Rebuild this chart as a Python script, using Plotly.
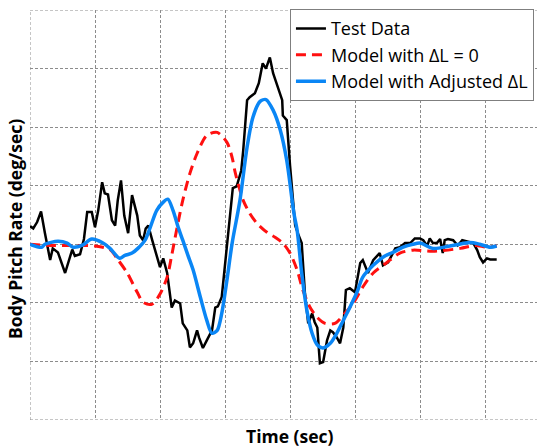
import plotly.graph_objects as go

# Test data (black)
test_t = [0.00, 0.05, 0.11, 0.17, 0.23, 0.31, 0.35, 0.43, 0.54, 0.65, 0.69, 0.77, 0.83, 0.88, 0.95,
          1.00, 1.05, 1.11, 1.15, 1.20, 1.26, 1.31, 1.35, 1.40, 1.45, 1.51, 1.57, 1.65, 1.69, 1.74,
          1.78, 1.82, 1.88, 1.92, 2.00, 2.05, 2.11, 2.18, 2.23, 2.31, 2.35, 2.42, 2.46, 2.51, 2.57,
          2.60, 2.66, 2.72, 2.80, 2.85, 2.89, 2.95, 3.00, 3.05, 3.12, 3.18, 3.25, 3.28, 3.34, 3.38,
          3.46, 3.52, 3.58, 3.63, 3.69, 3.74, 3.82, 3.88, 3.89, 3.95, 4.00, 4.08, 4.12, 4.18, 4.23,
          4.28, 4.34, 4.38, 4.42, 4.46, 4.51, 4.57, 4.62, 4.66, 4.72, 4.77, 4.82, 4.86, 4.92, 5.00,
          5.08, 5.12, 5.20, 5.28, 5.38, 5.43, 5.51, 5.62, 5.69, 5.77, 5.85, 5.92, 6.00, 6.05, 6.11,
          6.15, 6.20, 6.26, 6.31, 6.35, 6.38, 6.43, 6.51, 6.58, 6.65, 6.72, 6.77, 6.82, 6.88, 6.92,
          6.97, 7.03, 7.08, 7.18]
test_rate = [0.31, 0.27, 0.38, 0.56, 0.19, -0.27, -0.07, -0.14, -0.49, -0.09, -0.20, -0.17, 0.09, 0.55, 0.55,
             0.29, 0.58, 1.06, 0.87, 0.85, 0.41, 0.32, 0.75, 1.09, 0.49, 0.19, 0.84, 0.49, 0.15, 0.07,
             0.27, 0.32, 0.07, -0.10, -0.39, -0.24, -0.49, -1.08, -0.96, -1.01, -1.35, -1.47, -1.76, -1.69, -1.47,
             -1.59, -1.77, -1.64, -1.47, -1.08, -1.06, -0.90, -0.32, 0.24, 0.96, 0.99, 1.26, 1.60, 2.46, 2.51,
             2.58, 2.75, 3.09, 3.00, 3.19, 2.92, 2.66, 2.46, 2.20, 2.12, 1.35, 0.32, 0.19, 0.02, -0.84,
             -1.35, -1.18, -1.33, -1.42, -2.03, -2.01, -1.64, -1.47, -1.50, -1.59, -1.69, -1.42, -0.78, -0.75, -0.82,
             -0.32, -0.27, -0.49, -0.27, -0.15, -0.36, -0.31, -0.07, -0.05, 0.02, 0.02, 0.10, 0.10, 0.07, -0.03,
             0.10, 0.02, 0.02, 0.09, -0.15, 0.07, 0.09, 0.07, -0.02, 0.07, 0.05, 0.03, 0.02, -0.10, -0.22,
             -0.31, -0.24, -0.26, -0.26]

# Model with dL = 0 (red dashed)
m0_t = [0.00, 0.31, 0.62, 1.00, 1.23, 1.35, 1.49, 1.65, 1.74, 1.88, 2.00, 2.11, 2.18, 2.26, 2.35,
        2.46, 2.57, 2.72, 2.88, 3.03, 3.11, 3.15, 3.20, 3.28, 3.38, 3.49, 3.65, 3.77, 3.89, 4.00,
        4.11, 4.20, 4.31, 4.42, 4.54, 4.69, 4.82, 4.97, 5.12, 5.28, 5.49, 5.69, 5.89, 6.20, 6.62,
        6.85, 7.03, 7.18]
m0_rate = [0.00, -0.02, -0.02, -0.03, -0.09, -0.26, -0.48, -0.82, -0.99, -1.02, -0.85, -0.56, -0.19, 0.27, 0.75,
           1.21, 1.55, 1.86, 1.91, 1.74, 1.48, 1.26, 1.04, 0.75, 0.53, 0.36, 0.20, 0.12, 0.02, -0.15,
           -0.44, -0.79, -1.08, -1.25, -1.35, -1.35, -1.21, -1.01, -0.73, -0.49, -0.31, -0.15, -0.10, -0.12, -0.07,
           -0.02, -0.05, -0.03]

# Model with adjusted dL (blue)
adj_t = [0.00, 0.18, 0.23, 0.43, 0.57, 0.66, 0.80, 0.95, 1.11, 1.23, 1.38, 1.46, 1.57, 1.66, 1.77,
         1.85, 1.95, 2.05, 2.12, 2.20, 2.28, 2.35, 2.43, 2.51, 2.62, 2.72, 2.80, 2.88, 2.95, 3.03,
         3.11, 3.23, 3.34, 3.43, 3.54, 3.63, 3.74, 3.85, 3.95, 4.06, 4.11, 4.18, 4.26, 4.34, 4.42,
         4.51, 4.62, 4.72, 4.82, 4.92, 5.03, 5.12, 5.28, 5.43, 5.58, 5.74, 5.89, 6.00, 6.20, 6.46,
         6.77, 6.92, 7.08, 7.18]
adj_rate = [0.00, -0.05, 0.00, 0.05, 0.02, -0.05, -0.02, 0.09, 0.03, -0.07, -0.24, -0.19, -0.15, -0.07, 0.07,
            0.29, 0.58, 0.72, 0.77, 0.58, 0.29, 0.07, -0.19, -0.44, -0.90, -1.30, -1.52, -1.47, -1.18, -0.61,
            0.02, 0.75, 1.66, 2.17, 2.44, 2.47, 2.29, 1.95, 1.43, 0.53, 0.24, -0.49, -1.13, -1.52, -1.72,
            -1.77, -1.69, -1.52, -1.30, -1.08, -0.82, -0.56, -0.36, -0.22, -0.14, -0.05, 0.00, 0.02, -0.07, -0.03,
            0.03, 0.00, -0.05, -0.03]

names = ["Test Data", "Model with \u0394L = 0", "Model with Adjusted \u0394L"]

x_range = [0, 7.8]
y_range = [-3, 4]

fig = go.Figure()
fig.add_trace(go.Scatter(x=test_t, y=test_rate, mode="lines", name=names[0],
                         line=dict(color="#000000", width=2.5)))
fig.add_trace(go.Scatter(x=m0_t, y=m0_rate, mode="lines", name=names[1],
                         line=dict(color="#ff1010", width=3, dash="10px,6px", shape="spline", smoothing=0.8)))
fig.add_trace(go.Scatter(x=adj_t, y=adj_rate, mode="lines", name=names[2],
                         line=dict(color="#0a86f5", width=3.5, shape="spline", smoothing=0.8)))

grid_color = "#8c8c8c"
grid_dash = "3px,2px"
grid = dict(showgrid=True, gridcolor=grid_color, gridwidth=1, griddash=grid_dash,
            showline=False, zeroline=False, showticklabels=False, ticks="", dtick=1, tick0=0)

edge = dict(color=grid_color, width=1, dash=grid_dash)
shapes = [
    dict(type="line", xref="x", yref="paper", x0=x_range[0], x1=x_range[0], y0=0, y1=1, line=edge, layer="below"),
    dict(type="line", xref="paper", yref="y", x0=0, x1=1, y0=y_range[1], y1=y_range[1], line=edge, layer="below"),
    dict(type="line", xref="paper", yref="y", x0=0, x1=1, y0=y_range[0], y1=y_range[0], line=edge, layer="below"),
]

fig.update_layout(
    width=537, height=448,
    margin=dict(l=30, r=0, t=10, b=28),
    paper_bgcolor="white", plot_bgcolor="white",
    xaxis=dict(range=x_range, **grid),
    yaxis=dict(range=y_range, **grid),
    font=dict(family="Open Sans, Noto Sans, sans-serif", color="#000000"),
    showlegend=True,
    shapes=shapes,
    legend=dict(x=0.994, xanchor="right", y=1.002, yanchor="top",
                bgcolor="white", bordercolor="#7f7f7f", borderwidth=1,
                font=dict(size=18, color="#000000"), tracegroupgap=0,
                itemwidth=30),
    annotations=[
        dict(text="<b>Time (sec)</b>", xref="paper", yref="paper", x=0.512, y=0,
             xanchor="center", yanchor="middle", yshift=-16, showarrow=False,
             font=dict(size=17.5, color="#000000")),
        dict(text="<b>Body Pitch Rate (deg/sec)</b>", xref="paper", yref="paper", x=0, y=0.466,
             xanchor="right", yanchor="middle", xshift=-1, textangle=-90, showarrow=False,
             font=dict(size=17.5, color="#000000")),
    ],
)

fig.write_html("out.html", config={"displayModeBar": False},
               post_script="document.body.style.margin='0px';")
